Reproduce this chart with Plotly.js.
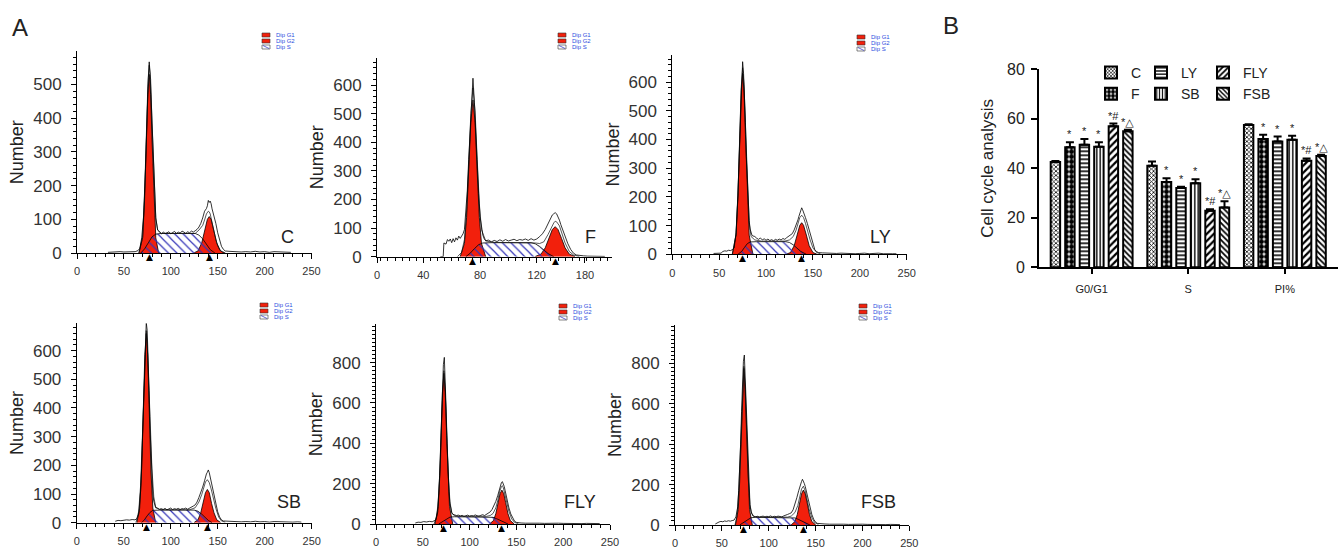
<!DOCTYPE html>
<html>
<head>
<meta charset="utf-8">
<script src="https://cdn.plot.ly/plotly-3.0.1.min.js"></script>
<style>html,body{margin:0;padding:0;background:#fff;}#chart{width:1343px;height:553px;}</style>
</head>
<body>
<div id="chart"></div>
<script>
// ---------------- Panel A: DNA histograms (channel vs Number) ----------------
// C
const cRawX = [33,38,42,46,50,54,58,62,65,67,69,71,73,75,76,77,78,79,80,81,82,83,84,86,88,90,92,94,96,98,100,102,104,106,108,110,112,114,116,118,120,122,124,126,128,130,132,134,136,138,139,140,141,142,143,144,146,148,150,152,154,156,158,162,166,170,175,180,185,190,195,200,205,210,215,220,225,228];
const cRawY = [2,3,2,4,3,4,5,4,7,14,45,110,250,450,520,567,530,460,385,290,210,150,105,68,61,57,62,58,60,63,57,61,64,58,62,59,65,62,58,63,60,65,62,66,70,77,88,104,124,132,140,156,150,154,146,131,112,88,60,38,20,11,6,5,4,5,3,4,3,5,3,4,2,4,3,4,2,2];
const cFitX = [66,70,72,74,75.5,77,78.5,80,82,84,86,90,110,126,130,134,136,138,140,141,142,144,146,148,150,152,155,158];
const cFitY = [0,50,170,360,495,557,515,383,207,101,68,58,58,58,68,82,98,116,124,122,116,94,65,40,21,10,3,1];
const cG1X = [66,70,72,74,75.5,77,78.5,80,82,84,87];
const cG1Y = [0,45,155,335,470,530,470,335,155,45,0];
const cG2X = [125,129,133,136,139,141,143,146,149,153,157];
const cG2Y = [1,6,30,65,100,108,100,65,30,6,1];
const cSX = [68,72,76,80,84,90,126,130,134,138,142,147];
const cSY = [0,12,30,48,56,58,58,53,42,26,10,0];
const cPeaks = [77,141];
// F
const fRawX = [52,54,54.5,56,57,58,59,60,61,62,63,64,65,66,67,68,69,70,71,72,73,74,75,76,77,78,79,80,81,82,83,84,86,88,90,92,94,96,98,100,102,104,106,108,110,112,114,116,118,120,122,124,126,128,130,131,132,133,134,135,136,137,138,140,142,144,146,148,150,153,156,160,164,168];
const fRawY = [0,0,48,44,60,54,62,49,63,52,66,58,72,64,72,80,95,150,230,340,450,560,624,540,420,340,220,140,100,75,62,56,58,52,57,53,59,54,60,55,58,61,56,60,58,62,57,63,58,62,70,80,95,115,132,146,150,154,150,140,128,112,98,70,45,25,12,6,4,3,2,2,1,1];
const fFitX = [64,67,69,70.5,72,73.5,75,76.5,78,79.5,81,84,90,116,119,122,125,128,130,132,133,134,136,138,140,143,146,150];
const fFitY = [0,15,60,160,320,500,590,510,340,185,95,55,50,50,48,46,52,78,100,118,124,122,108,80,48,18,6,1];
const fG1X = [66,69,70.5,72,73.5,75,76.5,78,79.5,81,84];
const fG1Y = [0,47,137,296,470,548,470,296,137,47,0];
const fG2X = [119,123,126,128.5,131,133,135,137.5,140,143,147];
const fG2Y = [1,9,31,64,95,105,95,64,31,9,1];
const fSX = [70,73,76,79,82,88,116,119,122,125,128,132];
const fSY = [0,12,28,42,48,49,49,45,36,24,11,0];
const fPeaks = [75,133];
const fTickVals = [7.3,40,80,120,154];
const fTickText = ['0','40','80','120','180'];
// LY
const lyRawX = [44,48,52,54,56,58,60,62,64,66,68,70,71,72,73,74,75,76,77,78,79,80,81,82,83,84,85,86,88,90,92,94,96,98,100,102,104,106,108,110,112,114,116,118,120,122,124,126,128,130,132,134,135,136,137,138,139,140,141,142,144,146,148,150,152,154,156,160,165,170,175,180,185,190,195,200,205,210,215,220,225,230,235,239];
const lyRawY = [3,4,4,10,12,11,14,13,16,22,75,210,300,430,540,630,671,630,560,460,340,250,170,118,88,72,66,64,62,56,52,57,50,54,49,53,48,51,47,52,49,53,50,55,52,58,62,66,72,85,100,120,132,145,156,162,155,148,140,128,108,85,58,32,16,9,6,5,4,5,3,4,3,4,2,3,4,2,3,4,2,3,2,2];
const lyFitX = [64,68,70,72,73.5,75,76.5,78,80,82,84,88,95,120,125,129,132,134,136,138,140,142,144,147,150,154,158];
const lyFitY = [0,70,205,425,580,650,592,450,240,110,62,50,46,46,50,62,84,108,128,136,128,108,84,50,22,6,2];
const lyG1X = [64,68,70,72,73.5,75,76.5,78,80,82,86];
const lyG1Y = [0,67,200,418,569,631,569,418,200,67,0];
const lyG2X = [122,126,130,133,136,138,140,143,146,150,154];
const lyG2Y = [1,6,30,67,101,110,101,67,30,6,1];
const lySX = [70,74,77,80,83,90,121,125,129,133,137,143];
const lySY = [0,10,24,37,43,44,44,41,33,22,10,0];
const lyPeaks = [75,138];
// SB
const sbRawX = [41,44,47,50,53,56,59,62,64,66,67,68,69,70,71,72,73,74,75,76,77,78,79,80,81,82,83,84,86,88,90,92,94,96,98,100,102,104,106,108,110,112,114,116,118,120,122,124,126,128,130,132,134,136,137,138,139,140,141,142,143,144,146,148,150,152,154,156,160,165,170,175,180,185,190,195,200,205,210,215,220,225,230,235,239];
const sbRawY = [5,8,7,9,10,9,11,10,14,30,60,110,190,290,420,530,640,698,670,590,460,330,230,150,100,75,60,52,50,47,49,46,50,45,48,51,46,49,47,50,46,49,48,51,47,50,54,58,62,72,88,104,124,146,160,170,176,184,175,160,140,118,90,62,38,20,10,6,5,4,5,3,4,3,5,3,4,2,4,3,4,3,2,3,2];
const sbFitX = [63,66,68,70,72,73,74,75,76,78,80,82,84,88,95,120,126,130,133,135,137,139,141,143,145,148,151,154,158];
const sbFitY = [0,40,130,300,520,620,670,630,560,370,190,90,55,46,45,45,52,72,98,122,142,150,140,118,90,50,20,6,2];
const sbG1X = [64,67,69,71,72.5,74,75.5,77,79,81,84];
const sbG1Y = [0,51,180,413,587,660,587,413,180,51,0];
const sbG2X = [125,129,132,134.5,137,139,141,143.5,146,149,153];
const sbG2Y = [1,10,35,67,105,116,105,67,35,10,1];
const sbSX = [69,72,75,78,81,88,125,129,133,136,140,144];
const sbSY = [0,10,24,36,43,44,44,40,30,20,8,0];
const sbPeaks = [74,139];
// FLY
const flyRawX = [42,45,48,51,54,57,60,62,64,66,67,68,69,70,71,72,73,74,75,76,77,78,79,80,81,82,84,86,88,90,92,94,96,98,100,102,104,106,108,110,112,114,116,118,120,122,124,126,128,130,131,132,133,134,135,136,137,138,139,140,142,144,146,148,150,152,155,160,165,170,175,180,185,190,195,200,205,210,215,220,225,230,235,239];
const flyRawY = [5,9,8,12,10,13,11,15,20,60,140,240,380,540,680,790,826,720,560,400,260,160,100,70,55,48,44,42,44,40,43,38,41,44,39,42,40,45,41,39,43,46,42,48,52,60,72,90,112,140,160,176,190,205,210,200,186,165,140,115,80,50,28,14,8,6,5,4,5,3,4,3,4,2,4,3,2,4,3,2,3,2,3,2];
const flyFitX = [62,65,67,69,70.5,72,72.5,73,74,75.5,77,79,81,84,90,118,122,125,128,130,132,134,135,136,138,140,142,145,148,152];
const flyFitY = [0,40,150,330,560,720,760,740,660,460,260,110,55,40,38,38,42,52,80,115,160,185,190,180,140,100,62,25,8,2];
const flyG1X = [63,66.5,68,69.5,71,72.5,74,75.5,77,78.5,82];
const flyG1Y = [0,88,224,438,654,747,654,438,224,88,0];
const flyG2X = [121.5,125.5,128,130.5,132.5,134.5,136.5,138.5,141,143.5,147.5];
const flyG2Y = [1,17,51,107,150,168,150,107,51,17,1];
const flySX = [67,70,73,76,79,84,121,125,129,133,137,141];
const flySY = [0,8,18,27,34,36,36,33,26,17,8,0];
const flyPeaks = [72.5,134.5];
// FSB
const fsbRawX = [43,45,47,49,51,53,55,57,59,61,63,65,66,67,68,69,70,71,72,73,74,75,76,77,78,79,80,81,82,83,84,86,88,90,92,94,96,98,100,102,104,106,108,110,112,114,116,118,120,122,124,126,128,130,132,133,134,135,136,137,138,139,140,141,142,144,146,148,150,152,155,160,165,170,175,180,185,190,195,200,205,210,215,220,225,230,235,240];
const fsbRawY = [5,12,15,18,16,20,18,21,19,22,24,40,60,90,170,260,400,560,700,810,841,720,580,420,270,160,100,68,52,45,42,40,43,39,42,44,40,43,41,45,40,43,41,44,42,40,45,47,52,56,60,75,100,135,170,190,205,215,226,218,205,190,168,145,122,85,52,28,14,8,6,5,4,5,3,4,3,4,2,4,3,2,4,3,2,3,2,2];
const fsbFitX = [64,66,68,70,71.5,73,73.5,74,75,76.5,78,80,82,85,90,120,124,128,131,133,135,137,139,141,143,146,149,153];
const fsbFitY = [0,40,170,400,620,760,785,760,660,440,240,100,55,42,39,39,44,62,96,138,178,192,168,125,80,36,12,3];
const fsbG1X = [64.5,67.5,69,70.5,72,73.5,75,76.5,78,79.5,82.5];
const fsbG1Y = [0,78,213,436,671,775,671,436,213,78,0];
const fsbG2X = [124,128,130.5,133,135,137,139,141,143.5,146,150];
const fsbG2Y = [1,17,52,110,154,173,154,110,52,17,1];
const fsbSX = [69,72,75,78,81,86,124,128,132,136,140,144];
const fsbSY = [0,9,20,30,36,38,38,35,27,18,8,0];
const fsbPeaks = [73.5,137];

const panelNames = ['C','F','LY','SB','FLY','FSB'];
const legendLabels = ['Dip G1','Dip G2','Dip S'];

// ---------------- Panel B: bar chart ----------------
const categories = ['G0/G1','S','PI%'];
const groups = ['C','F','LY','SB','FLY','FSB'];
const valC   = [42.5, 41.0, 57.5];
const valF   = [48.5, 34.5, 51.8];
const valLY  = [49.5, 32.0, 50.8];
const valSB  = [48.7, 34.0, 51.5];
const valFLY = [57.0, 22.8, 43.0];
const valFSB = [55.0, 24.2, 45.0];
const errC   = [0.4, 1.7, 0.3];
const errF   = [2.0, 1.5, 1.8];
const errLY  = [2.3, 0.5, 2.0];
const errSB  = [1.8, 1.6, 1.7];
const errFLY = [1.1, 0.7, 1.0];
const errFSB = [0.6, 2.5, 0.5];
const sigLabels = ['', '*', '*', '*', '*#', '*\u25B3'];

// ---------------- build ----------------
const W = 1343, H = 553;
const FONT = 'Liberation Sans, Arial, DejaVu Sans, sans-serif';
const RED = '#f2200c';
const xd = (a, b) => [a / W, b / W];
const yd = (bottom, top) => [1 - bottom / H, 1 - top / H];

const traces = [];
const peakMarks = [];
function addHist(n, rawX, rawY, fitX, fitY, g1X, g1Y, g2X, g2Y, sX, sY, peaks) {
  const xa = 'x' + (n === 1 ? '' : n), ya = 'y' + (n === 1 ? '' : n);
  const base = {type: 'scatter', mode: 'lines', xaxis: xa, yaxis: ya, showlegend: false, hoverinfo: 'skip'};
  traces.push(Object.assign({}, base, {x: g1X, y: g1Y, fill: 'tozeroy', fillcolor: RED, line: {color: '#000', width: 0.8}}));
  traces.push(Object.assign({}, base, {x: g2X, y: g2Y, fill: 'tozeroy', fillcolor: RED, line: {color: '#000', width: 0.8}}));
  traces.push(Object.assign({}, base, {x: sX, y: sY, fill: 'tozeroy', fillcolor: 'rgba(0,0,0,0)',
    fillpattern: {shape: '\\', fgcolor: '#3434b8', bgcolor: 'rgba(0,0,0,0)', size: 6, solidity: 0.2},
    line: {color: '#000', width: 0.8}}));
  traces.push(Object.assign({}, base, {x: fitX, y: fitY, line: {color: '#111', width: 0.7}}));
  traces.push(Object.assign({}, base, {x: rawX, y: rawY, line: {color: '#000', width: 0.8}}));
  // peak position markers (black triangles under the axis line)
  peaks.forEach(p => peakMarks.push({xref: xa, yref: ya, x: p, y: 0, text: '\u25B2', showarrow: false,
    xanchor: 'center', yanchor: 'middle', yshift: -4, font: {family: 'DejaVu Sans', size: 9, color: '#000'}}));
}
addHist(1, cRawX, cRawY, cFitX, cFitY, cG1X, cG1Y, cG2X, cG2Y, cSX, cSY, cPeaks);
addHist(2, fRawX, fRawY, fFitX, fFitY, fG1X, fG1Y, fG2X, fG2Y, fSX, fSY, fPeaks);
addHist(3, lyRawX, lyRawY, lyFitX, lyFitY, lyG1X, lyG1Y, lyG2X, lyG2Y, lySX, lySY, lyPeaks);
addHist(4, sbRawX, sbRawY, sbFitX, sbFitY, sbG1X, sbG1Y, sbG2X, sbG2Y, sbSX, sbSY, sbPeaks);
addHist(5, flyRawX, flyRawY, flyFitX, flyFitY, flyG1X, flyG1Y, flyG2X, flyG2Y, flySX, flySY, flyPeaks);
addHist(6, fsbRawX, fsbRawY, fsbFitX, fsbFitY, fsbG1X, fsbG1Y, fsbG2X, fsbG2Y, fsbSX, fsbSY, fsbPeaks);

const barVals = [valC, valF, valLY, valSB, valFLY, valFSB];
const barErrs = [errC, errF, errLY, errSB, errFLY, errFSB];
const patterns = [
  {shape: 'x', size: 3, solidity: 0.45},
  {shape: '.', size: 5, solidity: 0.75},
  {shape: '-', size: 4, solidity: 0.4},
  {shape: '|', size: 3.5, solidity: 0.4},
  {shape: '/', size: 5, solidity: 0.45},
  {shape: '\\', size: 4, solidity: 0.45}
];
const legendOf = ['legend', 'legend', 'legend2', 'legend2', 'legend3', 'legend3'];
groups.forEach((g, i) => {
  traces.push({
    type: 'bar', name: g, x: categories, y: barVals[i], xaxis: 'x7', yaxis: 'y7', legend: legendOf[i],
    marker: {color: '#fff', line: {color: '#000', width: 2},
      pattern: Object.assign({fgcolor: '#000', bgcolor: '#fff', fillmode: 'replace'}, patterns[i])},
    error_y: {type: 'data', symmetric: false, array: barErrs[i], arrayminus: barErrs[i].map(() => 0),
      color: '#000', thickness: 2, width: 4},
    hoverinfo: 'skip'
  });
});

function histXAxis(domain, anchor) {
  return {domain: domain, anchor: anchor, range: [0, 250], showline: true, linecolor: '#000', linewidth: 1,
    ticks: 'outside', ticklen: 5, tickcolor: '#000', tickwidth: 1, tick0: 0, dtick: 50,
    minor: {dtick: 10, ticks: 'outside', ticklen: 3, tickcolor: '#000', tickwidth: 1, showgrid: false},
    showgrid: false, zeroline: false, tickfont: {family: FONT, size: 11, color: '#333'}, ticklabelstandoff: 3};
}
function histYAxis(domain, anchor, top, dt) {
  return {domain: domain, anchor: anchor, range: [0, top], showline: true, linecolor: '#000', linewidth: 1,
    ticks: 'outside', ticklen: 5, tickcolor: '#000', tickwidth: 1, tick0: 0, dtick: dt,
    minor: {dtick: 20, ticks: 'outside', ticklen: 3, tickcolor: '#000', tickwidth: 1, showgrid: false},
    showgrid: false, zeroline: false, tickfont: {family: FONT, size: 17, color: '#333'}, ticklabelstandoff: 6,
    title: {text: 'Number', font: {family: FONT, size: 18, color: '#222'}, standoff: 4}};
}

const legendBase = {y: 1 - 57 / H, xanchor: 'left', yanchor: 'top', orientation: 'v', bgcolor: 'rgba(0,0,0,0)',
  font: {family: FONT, size: 14, color: '#222'}, tracegroupgap: 0, itemwidth: 30};

const layout = {
  width: W, height: H, margin: {l: 0, r: 0, t: 0, b: 0}, paper_bgcolor: '#fff', plot_bgcolor: 'rgba(0,0,0,0)',
  font: {family: FONT, color: '#222'},
  barmode: 'group', bargap: 0.1, bargroupgap: 0.35,
  xaxis: histXAxis(xd(77, 311.5), 'y'),
  yaxis: histYAxis(yd(253, 51.4), 'x', 598, 100),
  xaxis2: Object.assign(histXAxis(xd(377, 612), 'y2'), {range: [7.3, 173.1], tickmode: 'array', tickvals: fTickVals, ticktext: fTickText,
    minor: {tick0: 0, dtick: 5, ticks: 'outside', ticklen: 3, tickcolor: '#000', tickwidth: 1, showgrid: false}}),
  yaxis2: histYAxis(yd(256.7, 57.9), 'x2', 695, 100),
  xaxis3: histXAxis(xd(672.3, 906.7), 'y3'),
  yaxis3: histYAxis(yd(254.3, 54.8), 'x3', 695, 100),
  xaxis4: histXAxis(xd(76.7, 311.7), 'y4'),
  yaxis4: histYAxis(yd(522.7, 323.4), 'x4', 695, 100),
  xaxis5: histXAxis(xd(376, 610), 'y5'),
  yaxis5: histYAxis(yd(524, 324.3), 'x5', 990, 200),
  xaxis6: histXAxis(xd(675, 909.3), 'y6'),
  yaxis6: histYAxis(yd(525, 324.9), 'x6', 990, 200),
  xaxis7: {domain: xd(1039, 1338), anchor: 'y7', type: 'category', range: [-0.545, 2.55], showline: true,
    linecolor: '#000', linewidth: 2, ticks: 'outside', ticklen: 5, tickwidth: 2, tickcolor: '#000',
    tickfont: {family: FONT, size: 11, color: '#222'}, ticklabelstandoff: 5, showgrid: false, zeroline: false},
  yaxis7: {domain: yd(267.3, 69.3), anchor: 'x7', range: [0, 80], dtick: 20, showline: true, linecolor: '#000',
    linewidth: 2, ticks: 'outside', ticklen: 6, tickwidth: 2, tickcolor: '#000', showgrid: false, zeroline: false,
    tickfont: {family: FONT, size: 16, color: '#222'}, ticklabelstandoff: 3,
    title: {text: 'Cell cycle analysis', font: {family: FONT, size: 17, color: '#222'}, standoff: 9}},
  legend: Object.assign({x: 1091 / W}, legendBase),
  legend2: Object.assign({x: 1141 / W}, legendBase),
  legend3: Object.assign({x: 1203 / W}, legendBase),
  shapes: [],
  annotations: peakMarks.slice()
};

// panel letters
layout.annotations.push({xref: 'paper', yref: 'paper', x: 20 / W, y: 1 - 27 / H, text: 'A', showarrow: false,
  font: {family: FONT, size: 24, color: '#222'}, xanchor: 'center', yanchor: 'middle'});
layout.annotations.push({xref: 'paper', yref: 'paper', x: 951 / W, y: 1 - 25 / H, text: 'B', showarrow: false,
  font: {family: FONT, size: 24, color: '#222'}, xanchor: 'center', yanchor: 'middle'});

// group names inside histograms
const tagPos = [[296, 237], [598, 237], [893, 237], [303, 502], [598, 502], [898, 502]];
panelNames.forEach((t, i) => {
  layout.annotations.push({xref: 'paper', yref: 'paper', x: tagPos[i][0] / W, y: 1 - tagPos[i][1] / H, text: t,
    showarrow: false, xanchor: 'right', yanchor: 'middle', font: {family: FONT, size: 18, color: '#222'}});
});

// tiny modfit legends
const miniPos = [[262, 33], [558, 33], [857, 35], [260, 303], [559, 304], [859, 304]];
miniPos.forEach(p => {
  const [lx, ty] = p;
  legendLabels.forEach((lab, k) => {
    const top = ty + k * 6;
    layout.shapes.push({type: 'rect', xref: 'paper', yref: 'paper', x0: lx / W, x1: (lx + 8) / W,
      y0: 1 - (top + 4) / H, y1: 1 - top / H, fillcolor: k < 2 ? RED : '#fff', line: {color: '#333', width: 0.6}});
    if (k === 2) {
      layout.shapes.push({type: 'line', xref: 'paper', yref: 'paper', x0: (lx + 1) / W, x1: (lx + 7) / W,
        y0: 1 - (top + 0.5) / H, y1: 1 - (top + 3.5) / H, line: {color: '#3b3fc4', width: 0.8}});
    }
    layout.annotations.push({xref: 'paper', yref: 'paper', x: (lx + 12) / W, y: 1 - (top + 2) / H, text: lab,
      showarrow: false, xanchor: 'left', yanchor: 'middle', font: {family: FONT, size: 6, color: '#2a4de0'}});
  });
});

// significance marks on bars
for (let i = 1; i < groups.length; i++) {
  for (let j = 0; j < categories.length; j++) {
    layout.annotations.push({xref: 'x7', yref: 'y7', x: j + (i - 2.5) * 0.15, y: barVals[i][j] + barErrs[i][j],
      text: sigLabels[i], showarrow: false, xanchor: 'center', yanchor: 'bottom', yshift: 0,
      font: {family: FONT, size: 11, color: '#222'}});
  }
}

Plotly.newPlot('chart', traces, layout, {staticPlot: true, displayModeBar: false});
</script>
</body>
</html>
